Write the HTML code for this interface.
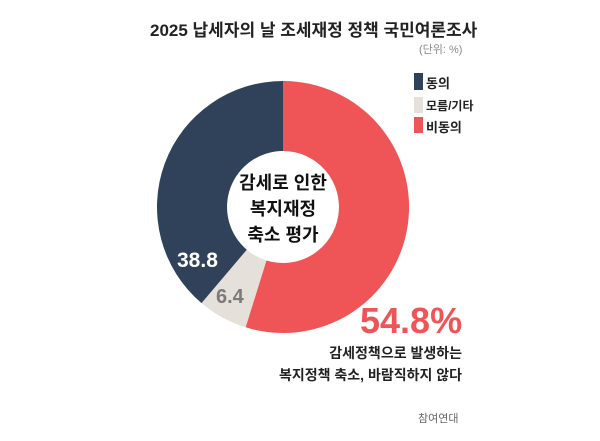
<!DOCTYPE html>
<html><head><meta charset="utf-8"><style>
body{margin:0;background:#fff;width:600px;height:441px;overflow:hidden;position:relative;font-family:"Liberation Sans","Noto Sans CJK KR",sans-serif;}
.t{position:absolute;white-space:nowrap;}
</style></head><body>
<svg width="600" height="441" style="position:absolute;left:0;top:0">
<path d="M283,81 A126,126 0 1 1 245.6,327.3 L266.4,260.5 A56,56 0 1 0 283,151 Z" fill="#ef5556"/>
<path d="M245.6,327.3 A126,126 0 0 1 201.5,303.1 L246.8,249.7 A56,56 0 0 0 266.4,260.5 Z" fill="#e5e0da"/>
<path d="M201.5,303.1 A126,126 0 0 1 283,81 L283,151 A56,56 0 0 0 246.8,249.7 Z" fill="#304259"/>
<rect x="414" y="73" width="9" height="17" fill="#304259"/>
<rect x="414" y="97" width="9" height="16" fill="#e5e0da"/>
<rect x="414" y="117" width="9" height="16" fill="#ef5556"/>
</svg>
<div class="t" style="left:150px;top:16px;font-size:17px;font-weight:bold;color:#222">2025 납세자의 날 조세재정 정책 국민여론조사</div>
<div class="t" style="left:419px;top:41px;font-size:11px;color:#888">(단위: %)</div>
<div class="t" style="left:426px;top:73px;font-size:13px;font-weight:bold;color:#222">동의</div>
<div class="t" style="left:426px;top:97px;font-size:12px;font-weight:bold;color:#222">모름/기타</div>
<div class="t" style="left:426px;top:117px;font-size:13px;font-weight:bold;color:#222">비동의</div>
<div class="t" style="left:223px;top:170px;width:120px;text-align:center;font-size:18px;font-weight:bold;color:#111;line-height:26px">감세로 인한<br>복지재정<br>축소 평가</div>
<div class="t" style="left:177px;top:249px;font-size:21px;font-weight:bold;color:#fff">38.8</div>
<div class="t" style="left:216px;top:286px;font-size:20px;font-weight:bold;color:#7b7b7b">6.4</div>
<div class="t" style="left:360px;top:300px;font-size:36px;font-weight:bold;color:#ef5556">54.8%</div>
<div class="t" style="right:138px;top:342px;text-align:right;font-size:14px;font-weight:bold;color:#222;line-height:22px">감세정책으로 발생하는<br>복지정책 축소, 바람직하지 않다</div>
<div class="t" style="left:418px;top:410px;font-size:11px;color:#666">참여연대</div>
</body></html>
